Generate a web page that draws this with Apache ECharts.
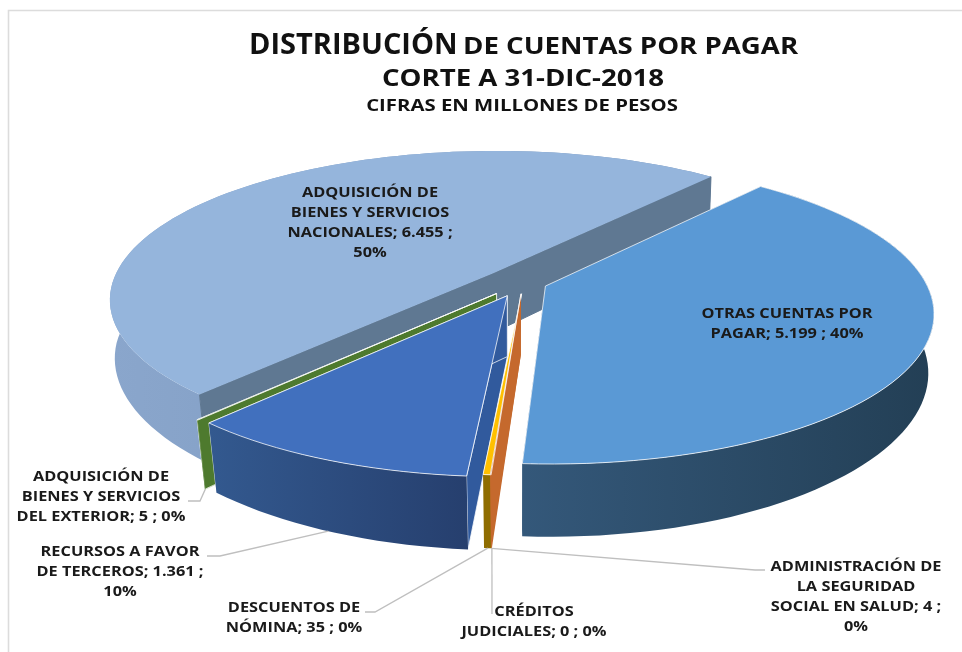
<!DOCTYPE html>
<html><head><meta charset="utf-8">
<style>html,body{margin:0;padding:0;background:#fff}#c{width:962px;height:652px}</style>
<script src="https://cdn.jsdelivr.net/npm/echarts@6/dist/echarts.min.js"></script>
</head><body><div id="c"></div>
<script>
// clockwise from the first slice angle
const categories = ['OTRAS CUENTAS POR PAGAR','ADMINISTRACIÓN DE LA SEGURIDAD SOCIAL EN SALUD','CRÉDITOS JUDICIALES','DESCUENTOS DE NÓMINA','RECURSOS A FAVOR DE TERCEROS','ADQUISICIÓN DE BIENES Y SERVICIOS DEL EXTERIOR','ADQUISICIÓN DE BIENES Y SERVICIOS NACIONALES'];
const values = [5199,4,0,35,1361,5,6455];
const labelTexts = [
 'OTRAS CUENTAS POR\nPAGAR; 5.199 ; 40%',
 'ADMINISTRACIÓN DE\nLA SEGURIDAD\nSOCIAL EN SALUD; 4 ;\n0%',
 'CRÉDITOS\nJUDICIALES; 0 ; 0%',
 'DESCUENTOS DE\nNÓMINA; 35 ; 0%',
 'RECURSOS A FAVOR\nDE TERCEROS; 1.361 ;\n10%',
 'ADQUISICIÓN DE\nBIENES Y SERVICIOS\nDEL EXTERIOR; 5 ; 0%',
 'ADQUISICIÓN DE\nBIENES Y SERVICIOS\nNACIONALES; 6.455 ;\n50%'
];
const titleLines = ['DISTRIBUCIÓN','DE CUENTAS POR PAGAR','CORTE A 31-DIC-2018','CIFRAS EN MILLONES DE PESOS'];

// layout and style (not data)
const FONT = '"Open Sans","Noto Sans",sans-serif';
const view = {cx:516, cy:281.5, a:380, b:146, k:0.17, explode:0.083, start:40.3, depth:60};
const labelPos = [[787,324],[856,597],[534,622],[294,618],[120,572],[101,497],[370,223]];
const elbows = [null,[[755,570],[765,570]],[[492,614]],[[375,612],[365,612]],[[220,556],[207,556]],[[200,501],[188,501]],null];
const looks = [
 {top:'#5a99d5', radial:'#34587a', wall:['#34587a','#233f55']},
 {top:'#c5692d', radial:'#c5692d', wall:['#c5692d','#c5692d'], dx:7},
 {top:'#a5a5a5', radial:'#a5a5a5', wall:['#a5a5a5','#a5a5a5'], dx:8},
 {top:'#ffc000', radial:null, wall:['#8f6d00','#8f6d00'], dx:8},
 {top:'#4170be', radial:'#315a9d', wall:['#33598f','#263f6e'], dx:4, dy:3, edged:true},
 {top:'#4e7a2e', radial:'#4e7a2e', wall:['#4e7a2e','#4e7a2e'], dx:2, dy:3, edged:true},
 {top:'#95b5dc', radial:'#5f7892', wall:['#8aa6cc','#7592b8'], radialOver:true, plain:true}
];
const paintOrder = [6,5,4,2,3,1,0];
const titleStyle = [
 {x:249,y:46,align:'left',size:28,scale:1.035},
 {x:463,y:47.5,align:'left',size:24,scale:1.15},
 {x:523,y:79,align:'center',size:24,scale:1.15},
 {x:522,y:106,align:'center',size:16,scale:1.27}
];

const total = values.reduce((s,v)=>s+v,0);
const spans = []; { let acc = view.start; values.forEach(v=>{ const sw=v/total*360; spans.push([acc,acc+sw]); acc+=sw; }); }
const rad = d=>d*Math.PI/180;
function project(u,v,dx,dy){
  const s = 1/(1-view.k*v);
  return {x:view.cx+view.a*u*s+dx, y:view.cy+view.b*v*s+dy, s, v};
}
function topPt(i,phi,r){
  const [a0,a1]=spans[i], m=rad((a0+a1)/2), e=view.explode;
  return project(e*Math.sin(m)+r*Math.sin(rad(phi)), -e*Math.cos(m)-r*Math.cos(rad(phi)), looks[i].dx||0, looks[i].dy||0);
}
const T = p=>[p.x,p.y];
const B = p=>[view.cx+(p.x-view.cx)*(0.99-0.018*Math.max(p.v,0)), p.y+view.depth*p.s];
function arc(i){
  const [a0,a1]=spans[i], n=Math.max(2,Math.ceil((a1-a0)/2)), out=[];
  for(let j=0;j<=n;j++) out.push(topPt(i,a0+(a1-a0)*j/n,1));
  return out;
}
function renderSlice(params,api){
  const rank=params.dataIndex, i=paintOrder[rank], val=api.value(0), look=looks[i];
  const kids=[], edge={stroke:look.plain?null:'rgba(255,255,255,0.75)',lineWidth:1};
  const z=rank*10+10;
  const ap=topPt(i,0,0), pts=arc(i);
  if(val>0){
    const wallPts=pts.map(T).concat(pts.slice().reverse().map(B));
    const radial=p=>[T(ap),T(p),B(p),B(ap)];
    const grad=new echarts.graphic.LinearGradient(0,0,1,0,[{offset:0,color:look.wall[0]},{offset:1,color:look.wall[1]}]);
    if(look.radial){
      const st=look.edged?edge.stroke:(look.plain?look.radial:null), rz=look.radialOver?z+1:z;
      kids.push({type:'polygon',z2:rz,shape:{points:radial(pts[0])},style:{fill:look.radial,stroke:st,lineWidth:1}});
      kids.push({type:'polygon',z2:rz,shape:{points:radial(pts[pts.length-1])},style:{fill:look.radial,stroke:st,lineWidth:1}});
    }
    kids.push({type:'polygon',z2:look.radialOver?z:z+1,shape:{points:wallPts},style:{fill:grad}});
    kids.push({type:'polygon',z2:z+2,shape:{points:[T(ap)].concat(pts.map(T))},style:Object.assign({fill:look.top},edge)});
  }
  if(elbows[i]){
    const [a0,a1]=spans[i], foot=B(topPt(i,(a0+a1)/2,1));
    kids.push({type:'polyline',z2:200,shape:{points:[foot].concat(elbows[i])},style:{fill:null,stroke:'#bfbfbf',lineWidth:1.3}});
  }
  kids.push({type:'text',z2:300,x:labelPos[i][0],y:labelPos[i][1],scaleX:1.21,style:{text:labelTexts[i],x:0,y:0,align:'center',verticalAlign:'middle',
    font:'bold 13.5px '+FONT,lineHeight:20,fill:'#1a1a1a'}});
  return {type:'group',children:kids};
}
const chart=echarts.init(document.getElementById('c'),null,{renderer:'canvas'});
chart.setOption({
  animation:false,
  backgroundColor:'#ffffff',
  graphic:[
    {type:'polyline',silent:true,shape:{points:[[8.5,652],[8.5,10.5],[962,10.5]]},style:{fill:null,stroke:'#dcdcdc',lineWidth:1.6}}
  ].concat(titleLines.map((t,j)=>({type:'text',silent:true,x:titleStyle[j].x,y:titleStyle[j].y,scaleX:titleStyle[j].scale,
    style:{text:t,x:0,y:0,align:titleStyle[j].align,verticalAlign:'middle',font:'bold '+titleStyle[j].size+'px '+FONT,fill:'#111111'}}))),
  series:[{type:'custom',coordinateSystem:'none',clip:false,silent:true,renderItem:renderSlice,
    data:paintOrder.map(i=>({name:categories[i],value:[values[i]]}))}]
});
</script></body></html>
